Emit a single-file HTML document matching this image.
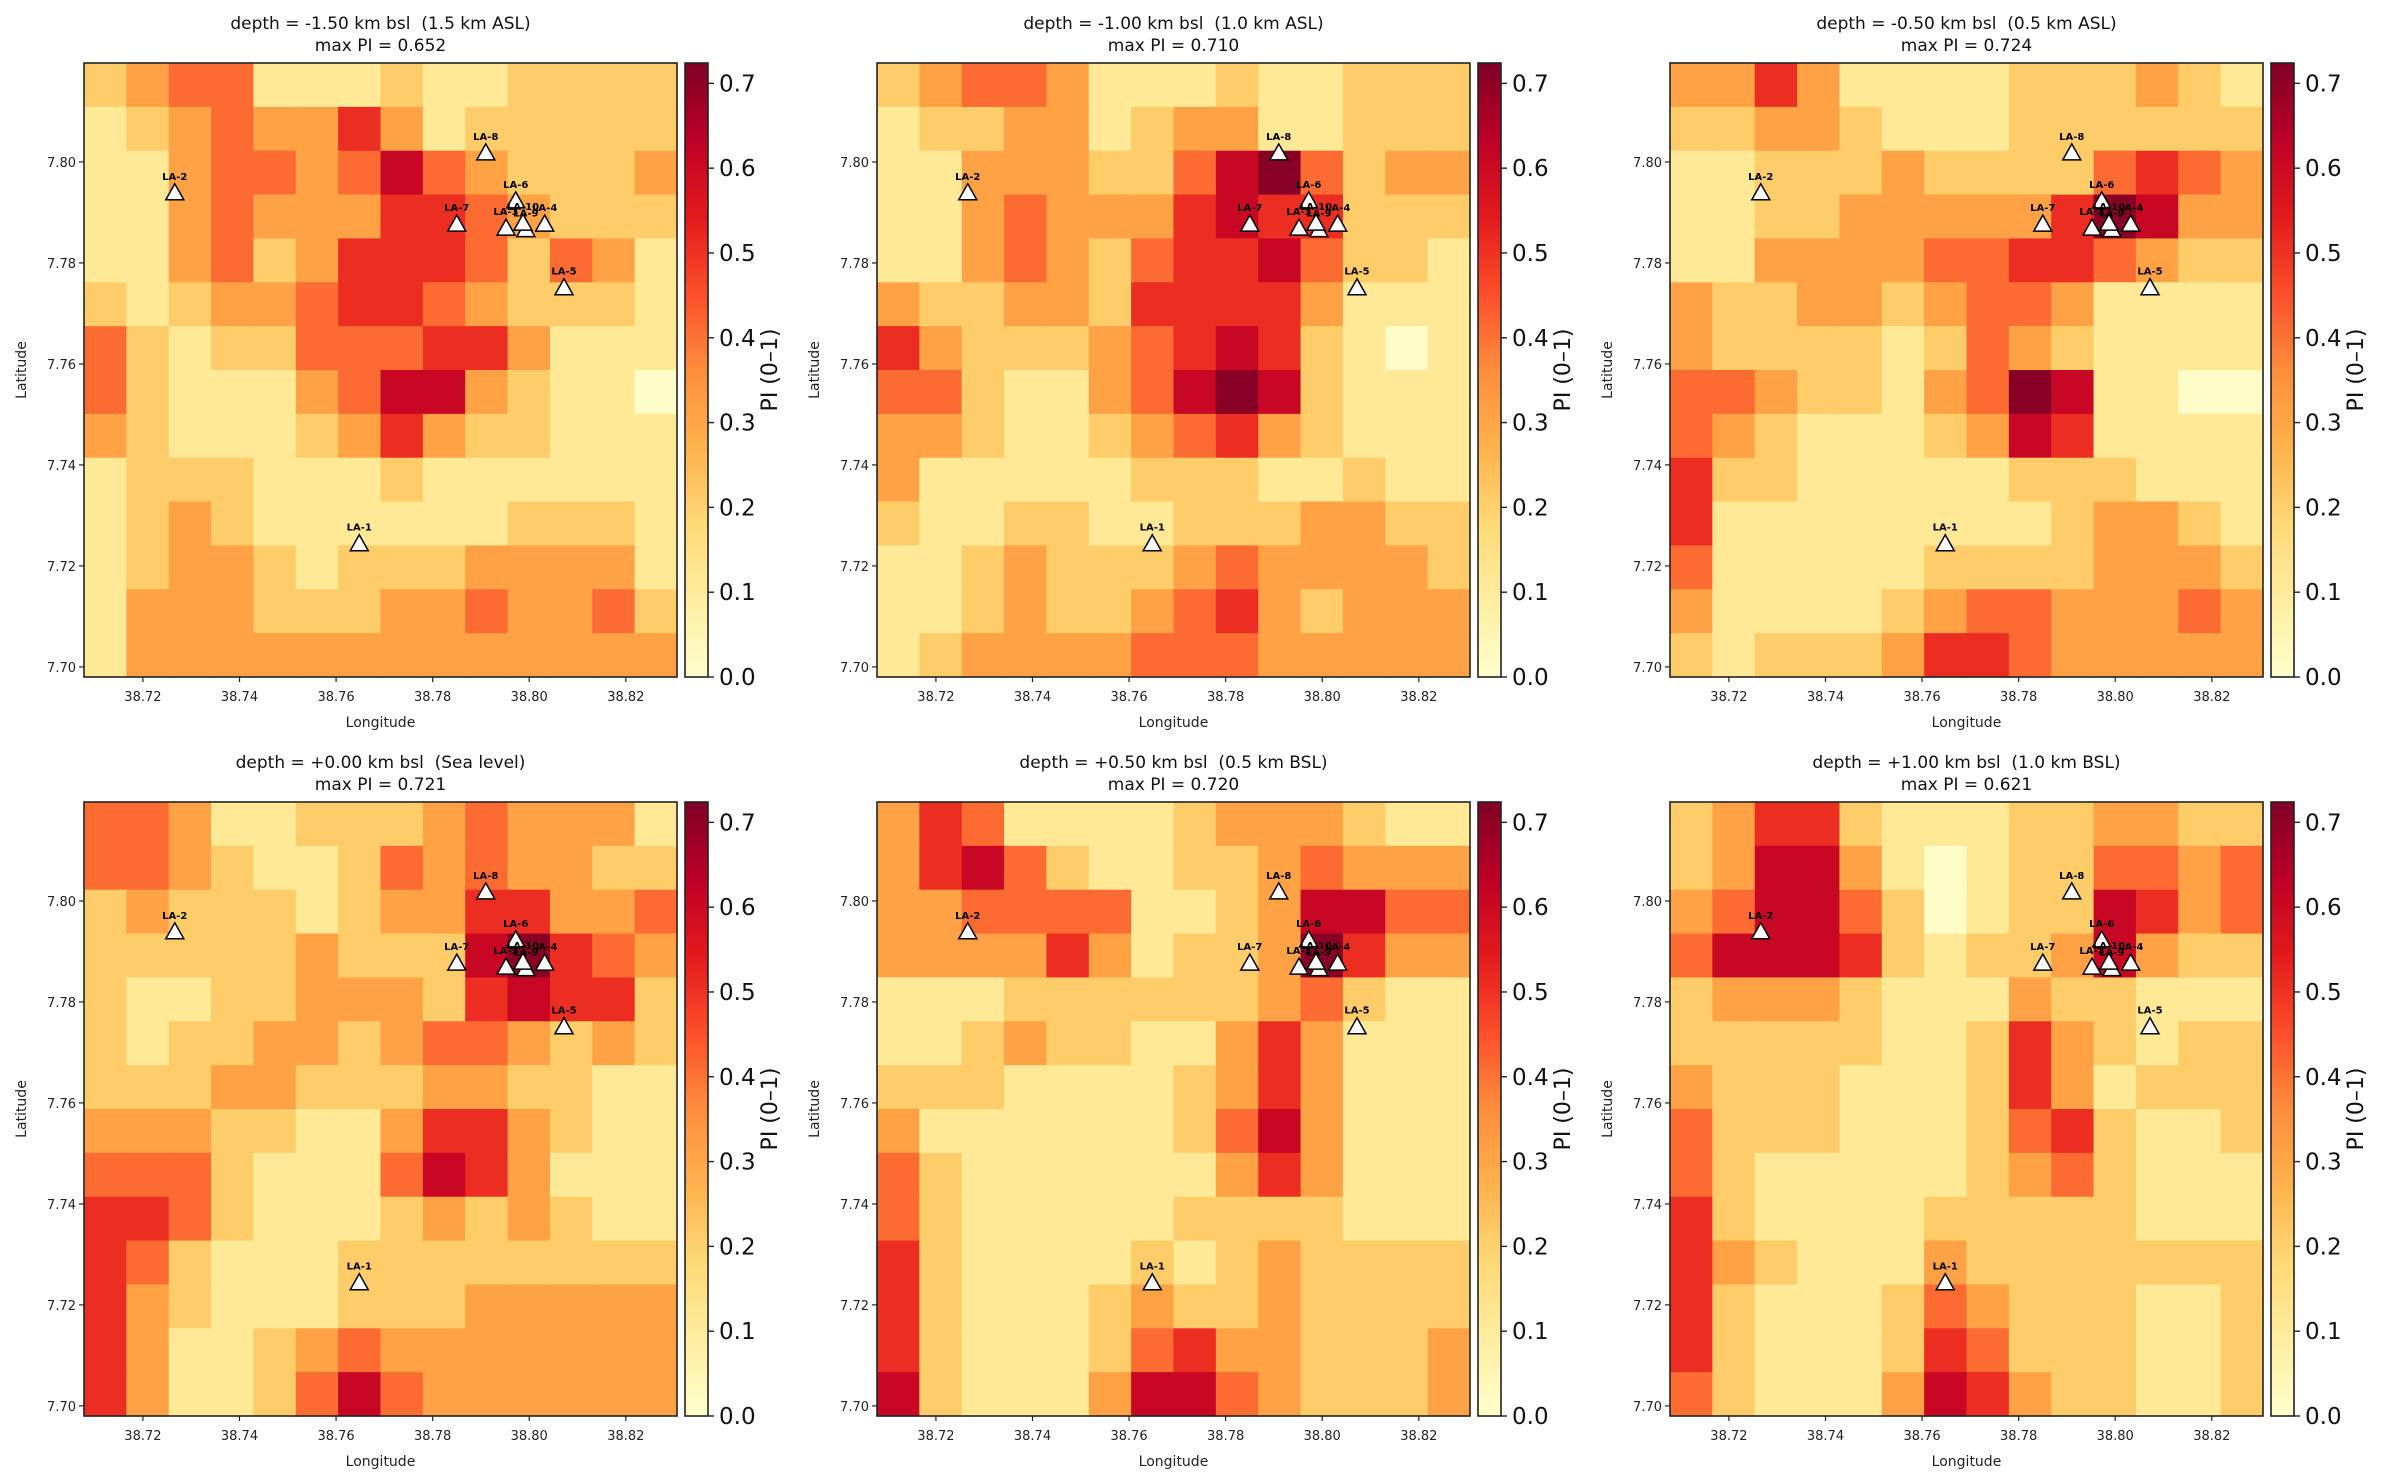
<!DOCTYPE html>
<html><head><meta charset="utf-8"><style>
html,body{margin:0;padding:0;background:#fff}
svg{display:block;font-family:"DejaVu Sans","Liberation Sans",sans-serif}
text{white-space:pre}
</style></head><body>
<svg id="fig" xmlns="http://www.w3.org/2000/svg" width="2384" height="1483" viewBox="0 0 2384 1483">
<defs>
<linearGradient id="ylorrd" x1="0" y1="1" x2="0" y2="0">
<stop offset="0" stop-color="#ffffcc"/><stop offset="0.125" stop-color="#ffeda0"/><stop offset="0.25" stop-color="#fed976"/><stop offset="0.375" stop-color="#feb24c"/><stop offset="0.5" stop-color="#fd8d3c"/><stop offset="0.625" stop-color="#fc4e2a"/><stop offset="0.75" stop-color="#e31a1c"/><stop offset="0.875" stop-color="#bd0026"/><stop offset="1" stop-color="#800026"/>
</linearGradient>
</defs>
</svg>
<script>
// ---- data ----
const titles1 = ["depth = -1.50 km bsl  (1.5 km ASL)","depth = -1.00 km bsl  (1.0 km ASL)","depth = -0.50 km bsl  (0.5 km ASL)","depth = +0.00 km bsl  (Sea level)","depth = +0.50 km bsl  (0.5 km BSL)","depth = +1.00 km bsl  (1.0 km BSL)"];
const maxPI = ["0.652","0.710","0.724","0.721","0.720","0.621"];
const xTicks = [38.72,38.74,38.76,38.78,38.80,38.82];
const yTicks = [7.70,7.72,7.74,7.76,7.78,7.80];
const cbTicks = [0.0,0.1,0.2,0.3,0.4,0.5,0.6,0.7];
const stationNames = ["LA-1","LA-2","LA-3","LA-4","LA-5","LA-6","LA-7","LA-8","LA-9","LA-10"];
const stationLon = [38.7648,38.7266,38.7952,38.8032,38.8072,38.7972,38.785,38.791,38.7993,38.7987];
const stationLat = [7.7242,7.7937,7.7867,7.7875,7.7749,7.7921,7.7875,7.8016,7.7864,7.7877];
// PI grids (x10), rows top (north) to bottom (south), 14x14 coarse cells
const grid1 = ["23441112112222","12343353122222","11344346432223","11343335543222","11342355542431","21233455432221","42122444553111","42111346632110","32111235322111","12221112111111","12321111112221","12332122233331","13332223343342","13333333333333"];
const grid2 = ["23443111211222","12233123311222","11333224674233","11343335655222","11343245564221","32233255553111","53222345652101","44211346762111","33211234532111","31111122211211","21122112223322","11232223433332","11232234532333","12333344433333"];
const grid3 = ["33531111222321","22332111222222","11222322224543","11223333357633","11333344554322","32233234431111","32222124321111","44322134761100","43211123651111","52211111222111","51111111123321","41111122223332","31111234433343","21222355433333"];
const grid4 = ["44311222343331","44321124343322","23222123355334","22222322267543","21122333256552","21223323443232","22233222332211","33322113553211","44421114653111","55421112323211","54211122222222","53211122233333","53112343333333","53112464333333"];
const grid5 = ["35411112333211","35642112234333","33444411236644","33335312237533","11122222234211","11232211353111","22211112353111","31111112463111","42111111353111","42111112222111","52111121232222","52111232232222","52111245332223","62111366432223"];
const grid6 = ["23552111223322","23663101224434","34664201226534","46665212236322","23332111322111","22222112532122","32221112531222","42221112452112","42111112342111","52111122222111","53211132222222","52111243222112","52111254222112","42111365322112"];
const grids = [grid1,grid2,grid3,grid4,grid5,grid6];

// ---- layout ----
const NS="http://www.w3.org/2000/svg";
const svg=document.getElementById('fig');
const colX=[84,877,1670], rowY=[63,802], PW=593, PH=614;
const lon0=38.7078, lon1=38.8306, lat0=7.698, lat1=7.8196, vmax=0.724;
const stops=[[255,255,204],[255,237,160],[254,217,118],[254,178,76],[253,141,60],[252,78,42],[227,26,28],[189,0,38],[128,0,38]];
function cmap(v){let t=Math.max(0,Math.min(1,v/vmax))*8;let i=Math.min(7,Math.floor(t));let f=t-i;const a=stops[i],b=stops[i+1];return `rgb(${Math.round(a[0]+(b[0]-a[0])*f)},${Math.round(a[1]+(b[1]-a[1])*f)},${Math.round(a[2]+(b[2]-a[2])*f)})`;}
function mk(tag,attrs,parent){const e=document.createElementNS(NS,tag);for(const k in attrs)e.setAttribute(k,attrs[k]);(parent||svg).appendChild(e);return e;}

for(let p=0;p<6;p++){
  const ox=colX[p%3], oy=rowY[Math.floor(p/3)];
  const xs=l=>ox+(l-lon0)/(lon1-lon0)*PW;
  const ys=l=>oy+(lat1-l)/(lat1-lat0)*PH;
  const g=mk('g',{});
  
  
  const grid=grids[p], nr=grid.length, nc=grid[0].length;
  const cw=PW/nc, ch=PH/nr;
  for(let r=0;r<nr;r++)for(let c=0;c<nc;c++){
    const v=parseInt(grid[r][c])/10+0.01;
    const rc=mk('rect',{x:(ox+c*cw).toFixed(2),y:(oy+r*ch).toFixed(2),width:(cw+0.6).toFixed(2),height:(ch+0.6).toFixed(2),fill:cmap(v)},g);
    
    
  }
  for(let s=0;s<stationNames.length;s++){
    const sx=xs(stationLon[s]), sy=ys(stationLat[s]);
    const tri=mk('polygon',{points:`${sx},${sy-10} ${sx-9},${sy+6} ${sx+9},${sy+6}`,fill:'#fff',stroke:'#000','stroke-width':1.5},g);
    
    
    const tl=mk('text',{x:sx,y:sy-14,'font-size':10,'font-weight':'bold','text-anchor':'middle',fill:'#000'},g);
    tl.textContent=stationNames[s];
    
    
  }
  const fr=mk('rect',{x:ox,y:oy,width:PW,height:PH,fill:'none',stroke:'#222','stroke-width':1.6},g);
  
  
  xTicks.forEach(t=>{const x=xs(t);mk('line',{x1:x,y1:oy+PH,x2:x,y2:oy+PH+5,stroke:'#222','stroke-width':1.2},g);
    const tt=mk('text',{x:x,y:oy+PH+24,'font-size':13,'text-anchor':'middle',fill:'#222'},g);tt.textContent=t.toFixed(2);
    
    });
  yTicks.forEach(t=>{const y=ys(t);mk('line',{x1:ox-5,y1:y,x2:ox,y2:y,stroke:'#222','stroke-width':1.2},g);
    const tt=mk('text',{x:ox-8,y:y+5,'font-size':13,'text-anchor':'end',fill:'#222'},g);tt.textContent=t.toFixed(2);
    
    });
  const xl=mk('text',{x:ox+PW/2,y:oy+PH+50,'font-size':14,'text-anchor':'middle',fill:'#222'},g);xl.textContent='Longitude';
  
  
  const yl=mk('text',{x:0,y:0,'font-size':14,'text-anchor':'middle',fill:'#222',transform:`translate(${ox-58},${oy+PH/2}) rotate(-90)`},g);yl.textContent='Latitude';
  
  
  const t1=mk('text',{x:ox+PW/2,y:oy-34,'font-size':17,'text-anchor':'middle',fill:'#111'},g);t1.textContent=titles1[p];
  
  
  const t2=mk('text',{x:ox+PW/2,y:oy-12,'font-size':17,'text-anchor':'middle',fill:'#111'},g);t2.textContent='max PI = '+maxPI[p];
  
  
  const cx=ox+PW+8, cwid=23;
  const cb=mk('rect',{x:cx,y:oy,width:cwid,height:PH,fill:'url(#ylorrd)',stroke:'#222','stroke-width':1.6},g);
  
  
  cbTicks.forEach(t=>{const y=oy+PH-(t/vmax)*PH;mk('line',{x1:cx+cwid,y1:y,x2:cx+cwid+6,y2:y,stroke:'#222','stroke-width':1.4},g);
    const tt=mk('text',{x:cx+cwid+11,y:y+8,'font-size':23,fill:'#111'},g);tt.textContent=t.toFixed(1);
    
    });
  const cl=mk('text',{x:0,y:0,'font-size':22,'text-anchor':'middle',fill:'#111',transform:`translate(${ox+PW+100},${oy+PH/2}) rotate(-90)`},g);cl.textContent='PI (0–1)';
  
  
}
</script>
</body></html>
